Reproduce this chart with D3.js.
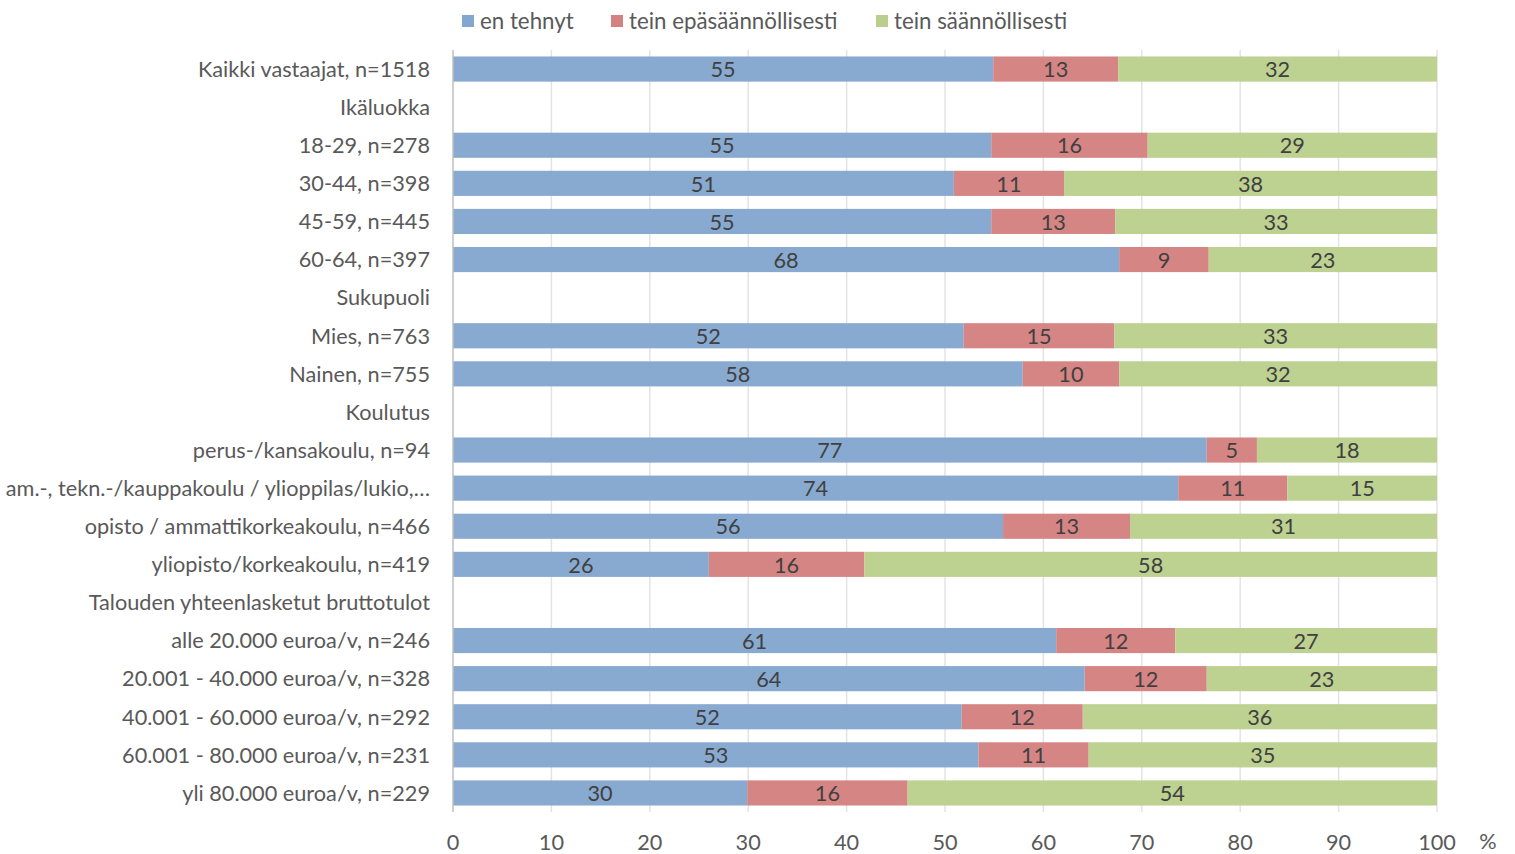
<!DOCTYPE html>
<html><head><meta charset="utf-8">
<script src="https://cdn.jsdelivr.net/npm/d3@7/dist/d3.min.js"></script>
<style>body{margin:0;background:#fff}svg{display:block}</style>
</head><body>
<svg id="c" width="1515" height="854"></svg>
<script>
const categories = ["Kaikki vastaajat, n=1518","Ikäluokka","18-29, n=278","30-44, n=398","45-59, n=445","60-64, n=397","Sukupuoli","Mies, n=763","Nainen, n=755","Koulutus","perus-/kansakoulu, n=94","am.-, tekn.-/kauppakoulu / ylioppilas/lukio,…","opisto / ammattikorkeakoulu, n=466","yliopisto/korkeakoulu, n=419","Talouden yhteenlasketut bruttotulot","alle 20.000 euroa/v, n=246","20.001 - 40.000 euroa/v, n=328","40.001 - 60.000 euroa/v, n=292","60.001 - 80.000 euroa/v, n=231","yli 80.000 euroa/v, n=229"];
const enTehnyt     = [54.9,null,54.7,50.9,54.7,67.7,null,51.9,57.9,null,76.6,73.7,55.9,26.0,null,61.3,64.2,51.7,53.4,29.9];
const epasaannoll  = [12.7,null,15.9,11.2,12.6,9.1,null,15.3,9.8,null,5.1,11.1,12.9,15.8,null,12.1,12.4,12.3,11.2,16.3];
const saannoll     = [32.4,null,29.4,37.9,32.7,23.2,null,32.8,32.3,null,18.3,15.2,31.2,58.2,null,26.6,23.4,36.0,35.4,53.8];
const seriesNames = ["en tehnyt","tein epäsäännöllisesti","tein säännöllisesti"];
const xTicks = [0,10,20,30,40,50,60,70,80,90,100];

const colors = ["#84a7cf","#d58181","#bbcf8d"];
const font = "Lato, 'Open Sans', sans-serif";
const fs = 21.7;
const svg = d3.select("#c");
const x = d3.scaleLinear().domain([0,100]).range([453,1437]);
const y = d3.scaleBand().domain(categories).range([50,812]).paddingInner(0.34).paddingOuter(0.17);

const rows = categories.map((c,i)=>({cat:c, vals:[enTehnyt[i],epasaannoll[i],saannoll[i]]}));

// gridlines
svg.append("g").selectAll("line").data(xTicks.slice(1)).join("line")
  .attr("x1",d=>x(d)).attr("x2",d=>x(d)).attr("y1",50).attr("y2",812)
  .attr("stroke","#e3e3e3").attr("stroke-width",1.5);

// bars
const g = svg.append("g");
rows.forEach(r=>{
  if(r.vals[0]==null) return;
  let acc=0;
  r.vals.forEach((v,k)=>{
    const x0=x(acc), x1=x(acc+v);
    g.append("rect").attr("x",x0).attr("y",y(r.cat)).attr("width",x1-x0).attr("height",y.bandwidth())
      .attr("fill",colors[k]).attr("opacity",0.97);
    g.append("text").attr("x",(x0+x1)/2).attr("y",y(r.cat)+y.bandwidth()/2).attr("dy","0.38em")
      .attr("text-anchor","middle").attr("font-family",font).attr("font-size",fs).attr("fill","#404040")
      .text(Math.round(v));
    acc+=v;
  });
});

// axis line
svg.append("line").attr("x1",453).attr("x2",453).attr("y1",50).attr("y2",812).attr("stroke","#bfbfbf").attr("stroke-width",1.5);

// category labels
svg.append("g").selectAll("text").data(categories).join("text")
  .attr("x",430).attr("y",d=>y(d)+y.bandwidth()/2).attr("dy","0.36em").attr("text-anchor","end")
  .attr("font-family",font).attr("font-size",fs).attr("fill","#595959").text(d=>d);

// x tick labels
svg.append("g").selectAll("text").data(xTicks).join("text")
  .attr("x",d=>x(d)).attr("y",842).attr("dy","0.36em").attr("text-anchor","middle")
  .attr("font-family",font).attr("font-size",fs).attr("fill","#595959").text(d=>d);
svg.append("text").attr("x",1488).attr("y",841).attr("dy","0.36em").attr("text-anchor","middle")
  .attr("font-family",font).attr("font-size",fs).attr("fill","#595959").text("%");

// legend
const legX=[462,611,876];
seriesNames.forEach((s,k)=>{
  svg.append("rect").attr("x",legX[k]).attr("y",15).attr("width",12).attr("height",12).attr("fill",colors[k]);
  svg.append("text").attr("x",legX[k]+18).attr("y",21).attr("dy","0.36em")
    .attr("font-family",font).attr("font-size",22.3).attr("fill","#595959").text(s);
});
</script>
</body></html>
